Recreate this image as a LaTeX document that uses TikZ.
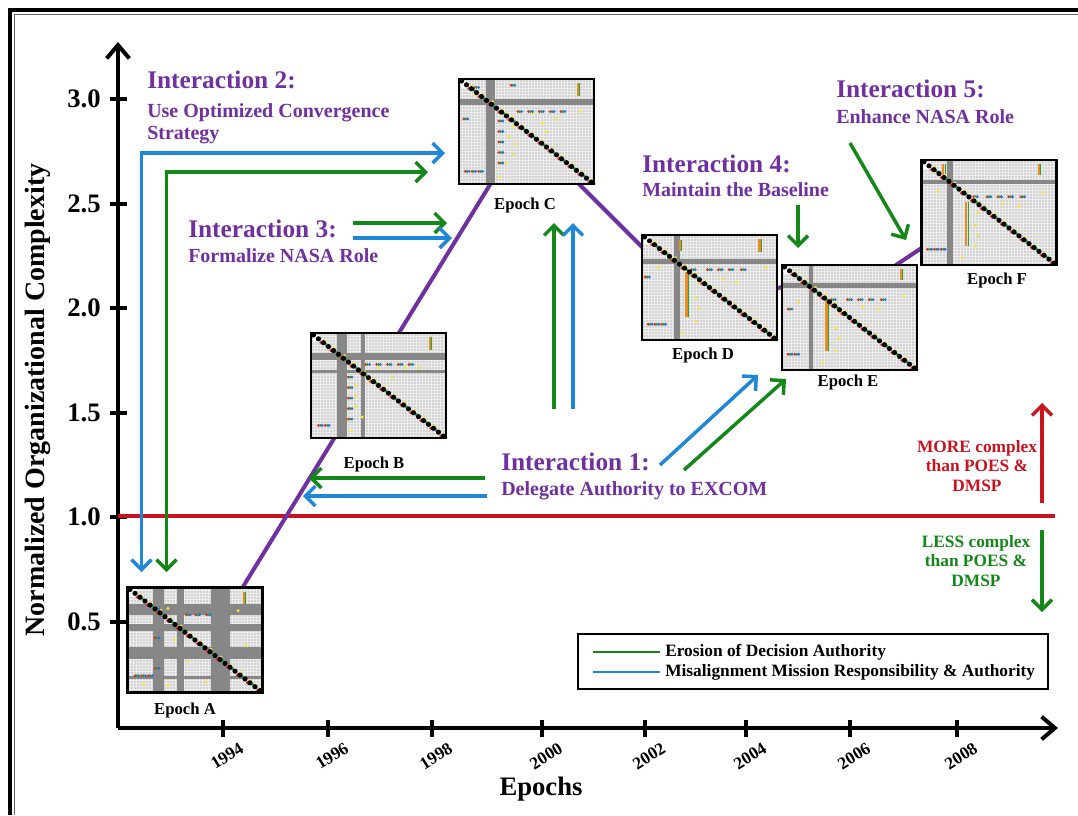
\documentclass[tikz,border=0pt]{standalone}
\usepackage{fontspec}
\setmainfont{Liberation Serif}
\usetikzlibrary{arrows.meta}
\definecolor{purp}{RGB}{112,48,160}
\definecolor{blu}{RGB}{30,135,215}
\definecolor{grn}{RGB}{20,135,25}
\definecolor{redc}{RGB}{200,20,30}
\definecolor{dsmlight}{RGB}{210,210,210}
\definecolor{dsmbandc}{RGB}{135,135,135}
\definecolor{dsmgridc}{RGB}{236,236,236}
\definecolor{dyel}{RGB}{250,232,40}
\definecolor{dred}{RGB}{225,40,30}
\definecolor{dgrn}{RGB}{40,160,60}
\definecolor{dblu}{RGB}{40,110,220}
\definecolor{dora}{RGB}{235,140,30}
\tikzset{
  >={Straight Barb[length=7.5pt,width=15pt]},
  arr/.style={line width=2.6pt},
  axisline/.style={line width=3pt, -{Straight Barb[length=10pt,width=17pt]}},
  tickmark/.style={line width=2.6pt},
  purpline/.style={purp, line width=3pt},
  dsmnode/.style={fill=dsmlight, minimum width=101.25pt, minimum height=78.75pt, inner sep=0pt, outer sep=0pt},
  dsmgrid/.style={dsmgridc, line width=0.35pt},
  dsmband/.style={dsmbandc},
  ititle/.style={font=\fontsize{19}{22}\selectfont\bfseries, text=purp, anchor=base west, inner sep=0pt},
  isub/.style={font=\fontsize{15}{18}\selectfont\bfseries, text=purp, anchor=base west, inner sep=0pt},
  eplabel/.style={font=\fontsize{12.5}{14}\selectfont\bfseries, anchor=base, inner sep=0pt},
  ytick/.style={font=\fontsize{20}{22}\selectfont\bfseries, anchor=east, inner sep=0pt},
  year/.style={font=\fontsize{13}{14}\selectfont\bfseries, rotate=32, inner sep=0pt},
  legtext/.style={font=\fontsize{13}{15}\selectfont\bfseries, anchor=west, inner sep=0pt},
  sidetext/.style={font=\fontsize{13}{14.5}\selectfont\bfseries, align=center, inner sep=0pt},
}
% #1 name, #2 centre, #3 vertical bands, #4 horizontal bands, #5 yellow dots, #6 rgb dots, #7 stacks
\newcommand\DSM[7]{%
 \node[dsmnode] (#1) at (#2) {};
 \begin{scope}[shift={(#1.north west)}]
  \foreach \k in {1,...,44} \draw[dsmgrid] (\k*3,0) -- (\k*3,105);
  \foreach \k in {1,...,34} \draw[dsmgrid] (0,\k*3) -- (135,\k*3);
  \foreach \ua/\ub in {#3} \fill[dsmband] (\ua*135,0) rectangle (\ub*135,105);
  \foreach \ua/\ub in {#4} \fill[dsmband] (0,\ua*105) rectangle (135,\ub*105);
  \fill[white] (1.5,1.5) rectangle (9,9);
  \foreach \ua/\ub in {#5} \fill[dyel] (\ua*135,\ub*105) circle (1.2pt);
  \foreach \ua/\ub in {#6} {\fill[dred] (\ua*135-1.9,\ub*105) circle (1.15pt);
     \fill[dgrn] (\ua*135,\ub*105) circle (1.15pt);
     \fill[dblu] (\ua*135+1.9,\ub*105) circle (1.15pt);}
  \foreach \ua/\ub/\uc in {#7} {\draw[dora,line width=1.6pt] (\ua*135,\ub*105) -- (\ua*135,\uc*105);
     \draw[dgrn,line width=0.8pt] (\ua*135+2,\ub*105) -- (\ua*135+2,\uc*105);}
  \foreach \k in {2,4,...,26} {\fill[dred] ({(\k+0.5)*5-2.4},{(\k+0.5)*3.89}) circle (1.4pt);
     \fill[dgrn] ({(\k+0.5)*5+2.4},{(\k+0.5)*3.89+1.5}) circle (1.3pt);
     \fill[dyel] ({(\k+0.5)*5+1},{(\k+0.5)*3.89-2.5}) circle (1.2pt);}
  \foreach \k in {0,...,26} \fill[black] ({(\k+0.5)*5},{(\k+0.5)*3.89}) circle (1.95pt);
  \draw[line width=2pt] (0,0) rectangle (135,105);
 \end{scope}}

\begin{document}
\begin{tikzpicture}[x=0.75pt, y=-0.75pt]
\useasboundingbox (0,0) rectangle (1078,815);
\fill[white] (0,0) rectangle (1078,815);
% frame
\draw[line width=3pt] (1078,10) -- (10,10) -- (10,815);
\draw[black!60, line width=1.2pt] (1078,14.5) -- (14.5,14.5) -- (14.5,815);

% axes
\coordinate (orig) at (118,728);
\coordinate (ytop) at (118,42);
\coordinate (xend) at (1058,728);
\draw[axisline] (orig) -- (ytop);
\draw[axisline] (orig) -- (xend);
\foreach \v/\yy in {3.0/99, 2.5/204, 2.0/308, 1.5/413, 1.0/517, 0.5/622}{
  \draw[tickmark] (110,\yy) -- (127,\yy);
  \node[ytick] (yt\v) at (101,\yy) {\v};
}
\foreach \yr/\xx in {1994/223, 1996/328, 1998/432, 2000/542, 2002/645, 2004/746, 2006/850, 2008/957}{
  \draw[tickmark] (\xx,720) -- (\xx,737);
  \node[year] (yr\yr) at (\xx+4,756) {\yr};
}
\node[font=\fontsize{21}{24}\selectfont\bfseries, rotate=90] (ylab) at (38,400) {Normalized Organizational Complexity};
\node[font=\fontsize{20}{24}\selectfont\bfseries] (xlab) at (541,789) {Epochs};

% reference line
\coordinate (r0) at (118,516);
\coordinate (r1) at (1055,516);
\draw[redc, line width=3pt] (r0) -- (r1);

% trajectory
\coordinate (pA) at (241,590);
\coordinate (pC1) at (491,183);
\coordinate (pC2) at (578,183);
\coordinate (pD1) at (645,250);
\coordinate (pD2) at (776,289);
\coordinate (pE1) at (784,286);
\coordinate (pE2) at (893,267);
\coordinate (pF) at (923,247);
\draw[purpline] (pA) -- (pC1);
\draw[purpline] (pC2) -- (pD1);
\draw[purpline] (pD2) -- (pE1);
\draw[purpline] (pE2) -- (pF);

% matrices
\DSM{epA}{195,640}{0.19/0.27, 0.37/0.42, 0.62/0.76}{0.16/0.26, 0.35/0.41, 0.57/0.68, 0.84/0.87}
 {0.3/0.2, 0.35/0.5, 0.45/0.7, 0.58/0.9, 0.82/0.22, 0.3/0.93, 0.88/0.55, 0.12/0.92}
 {0.07/0.84, 0.12/0.84, 0.17/0.84, 0.22/0.2, 0.22/0.48, 0.22/0.77, 0.45/0.26, 0.52/0.26, 0.6/0.26}
 {0.86/0.04/0.16}
\DSM{epB}{378.5,385.5}{0.19/0.27, 0.37/0.40}{0.19/0.26, 0.35/0.38}
 {0.33/0.5, 0.33/0.6, 0.33/0.7, 0.38/0.8, 0.5/0.33, 0.6/0.42, 0.7/0.33, 0.8/0.33, 0.43/0.45, 0.3/0.93}
 {0.07/0.88, 0.12/0.88, 0.29/0.42, 0.29/0.52, 0.29/0.62, 0.29/0.72, 0.29/0.82, 0.42/0.3, 0.5/0.3, 0.58/0.3, 0.66/0.3, 0.74/0.3}
 {0.88/0.04/0.16}
\DSM{epC}{526.5,131.5}{0.2/0.27}{0.19/0.25}
 {0.35/0.33, 0.4/0.45, 0.37/0.55, 0.42/0.62, 0.4/0.72, 0.35/0.8, 0.3/0.93, 0.55/0.33, 0.62/0.42, 0.72/0.38, 0.9/0.31, 0.65/0.5, 0.12/0.15}
 {0.06/0.88, 0.11/0.88, 0.16/0.88, 0.31/0.4, 0.31/0.5, 0.31/0.6, 0.31/0.7, 0.31/0.8, 0.45/0.31, 0.53/0.31, 0.61/0.31, 0.69/0.31, 0.77/0.31, 0.05/0.38, 0.13/0.08, 0.4/0.06}
 {0.88/0.04/0.16}
\DSM{epD}{709.5,287.5}{0.24/0.28}{0.23/0.28}
 {0.42/0.45, 0.4/0.6, 0.42/0.7, 0.4/0.82, 0.6/0.42, 0.7/0.45, 0.92/0.31, 0.3/0.93, 0.12/0.31}
 {0.06/0.85, 0.11/0.85, 0.16/0.85, 0.38/0.33, 0.5/0.33, 0.58/0.33, 0.66/0.33, 0.75/0.33, 0.04/0.4}
 {0.33/0.35/0.78, 0.87/0.04/0.16, 0.28/0.05/0.15}
\DSM{epE}{849.5,317.5}{0.2/0.23}{0.17/0.22}
 {0.42/0.45, 0.4/0.6, 0.42/0.7, 0.4/0.82, 0.6/0.4, 0.72/0.42, 0.9/0.3, 0.3/0.93, 0.12/0.35}
 {0.06/0.85, 0.11/0.85, 0.38/0.33, 0.5/0.33, 0.58/0.33, 0.66/0.33, 0.75/0.33, 0.06/0.42}
 {0.33/0.32/0.82, 0.88/0.04/0.14}
\DSM{epF}{989,212.5}{0.19/0.23}{0.19/0.23}
 {0.42/0.5, 0.4/0.62, 0.42/0.72, 0.4/0.82, 0.6/0.42, 0.72/0.44, 0.9/0.31, 0.3/0.93, 0.12/0.3}
 {0.06/0.85, 0.11/0.85, 0.16/0.85, 0.4/0.35, 0.5/0.35, 0.58/0.35, 0.66/0.35, 0.75/0.35}
 {0.33/0.4/0.82, 0.87/0.04/0.14, 0.16/0.04/0.14}

\node[eplabel] (labA) at (185,714) {Epoch A};
\node[eplabel] (labB) at (374,468) {Epoch B};
\node[eplabel] (labC) at (525,209) {Epoch C};
\node[eplabel] (labD) at (703,359) {Epoch D};
\node[eplabel] (labE) at (848,386) {Epoch E};
\node[eplabel] (labF) at (997,284) {Epoch F};

% interaction texts
\node[ititle] (i2t) at (147,88) {Interaction 2:};
\node[isub] (i2a) at (147,117) {Use Optimized Convergence};
\node[isub] (i2b) at (147,139) {Strategy};
\node[ititle] (i3t) at (188,237) {Interaction 3:};
\node[isub] (i3a) at (188,262) {Formalize NASA Role};
\node[ititle] (i4t) at (642,172) {Interaction 4:};
\node[isub] (i4a) at (642,196) {Maintain the Baseline};
\node[ititle] (i5t) at (836,97) {Interaction 5:};
\node[isub] (i5a) at (836,123) {Enhance NASA Role};
\node[ititle] (i1t) at (501,470) {Interaction 1:};
\node[isub] (i1a) at (501,495) {Delegate Authority to EXCOM};

% interaction 2 arrows
\coordinate (b2s) at (141.5,572); \coordinate (b2c) at (141.5,153); \coordinate (b2e) at (445,153);
\coordinate (g2s) at (166.5,572); \coordinate (g2c) at (166.5,172); \coordinate (g2e) at (428,172);
\draw[arr, blu, <->] (b2s) -- (b2c) -- (b2e);
\draw[arr, grn, <->] (g2s) -- (g2c) -- (g2e);
% interaction 3 arrows
\coordinate (g3s) at (353,223); \coordinate (g3e) at (447,223);
\coordinate (b3s) at (353,238); \coordinate (b3e) at (452,238);
\draw[arr, grn, ->] (g3s) -- (g3e);
\draw[arr, blu, ->] (b3s) -- (b3e);
% vertical arrows to epoch C
\coordinate (gvs) at (554,409); \coordinate (gve) at (554,223);
\coordinate (bvs) at (573,409); \coordinate (bve) at (573,223);
\draw[arr, grn, ->] (gvs) -- (gve);
\draw[arr, blu, ->] (bvs) -- (bve);
% interaction 1 arrows
\coordinate (g1s) at (485,478); \coordinate (g1e) at (309,478);
\coordinate (b1s) at (487,496); \coordinate (b1e) at (303,496);
\draw[arr, grn, ->] (g1s) -- (g1e);
\draw[arr, blu, ->] (b1s) -- (b1e);
\coordinate (bds) at (660,465); \coordinate (bde) at (758,375);
\coordinate (gds) at (684,470); \coordinate (gde) at (786,379);
\draw[arr, blu, ->] (bds) -- (bde);
\draw[arr, grn, ->] (gds) -- (gde);
% interaction 4 and 5 arrows
\coordinate (g4s) at (798,205); \coordinate (g4e) at (798,248);
\draw[arr, grn, ->] (g4s) -- (g4e);
\coordinate (g5s) at (850,143); \coordinate (g5e) at (906,240);
\draw[arr, grn, ->] (g5s) -- (g5e);

% more / less
\coordinate (mu0) at (1042,503); \coordinate (mu1) at (1042,403);
\coordinate (ld0) at (1042,530); \coordinate (ld1) at (1042,612);
\draw[arr, redc, ->] (mu0) -- (mu1);
\draw[arr, grn, ->] (ld0) -- (ld1);
\node[sidetext, text=redc] (more) at (977,466) {MORE complex\\than POES \&\\DMSP};
\node[sidetext, text=grn] (less) at (976,561) {LESS complex\\than POES \&\\DMSP};

% legend
\node[draw, line width=1.5pt, minimum width=352.5pt, minimum height=41.25pt, inner sep=0pt] (legend) at (813,661.5) {};
\coordinate (lg1a) at (593,652); \coordinate (lg1b) at (660,652);
\coordinate (lg2a) at (593,672); \coordinate (lg2b) at (660,672);
\draw[grn, line width=2.2pt] (lg1a) -- (lg1b);
\draw[blu, line width=2.2pt] (lg2a) -- (lg2b);
\node[legtext] (leg1) at (665,652) {Erosion of Decision Authority};
\node[legtext] (leg2) at (665,672) {Misalignment Mission Responsibility \& Authority};
\end{tikzpicture}
\end{document}
